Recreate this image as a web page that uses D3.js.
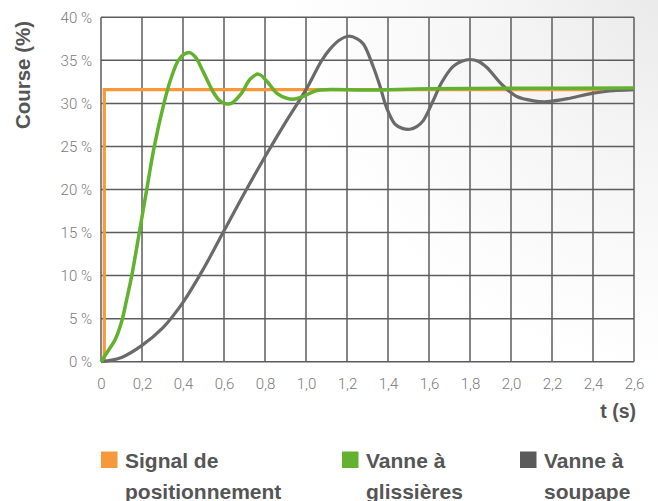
<!DOCTYPE html>
<html>
<head>
<meta charset="utf-8">
<script src="https://cdn.jsdelivr.net/npm/d3@7"></script>
<style>
  html, body { margin: 0; padding: 0; background: #fff; }
  svg { display: block; }
</style>
</head>
<body>
<svg id="chart" width="658" height="501"></svg>
<script>
// ---- Data ----
const xTickValues = [0, 0.2, 0.4, 0.6, 0.8, 1.0, 1.2, 1.4, 1.6, 1.8, 2.0, 2.2, 2.4, 2.6];
const xTickLabels = ["0", "0,2", "0,4", "0,6", "0,8", "1,0", "1,2", "1,4", "1,6", "1,8", "2,0", "2,2", "2,4", "2,6"];
const yTickValues = [0, 5, 10, 15, 20, 25, 30, 35, 40];
const yTickLabels = ["0 %", "5 %", "10 %", "15 %", "20 %", "25 %", "30 %", "35 %", "40 %"];

const signalT = [0.016, 0.016, 2.6];
const signalV = [0, 31.6, 31.6];

const glissT = [0, 0.036, 0.07, 0.1, 0.125, 0.15, 0.187, 0.223, 0.26, 0.307, 0.34, 0.377, 0.405, 0.432, 0.46, 0.5, 0.548, 0.58, 0.61, 0.635, 0.686, 0.727, 0.768, 0.808, 0.857, 0.906, 0.946, 0.995, 1.052, 1.117, 1.3, 1.6, 2.0, 2.6];
const glissV = [0, 1.3, 2.6, 4.6, 7.2, 10, 15, 20, 25, 30, 32.8, 35, 35.7, 35.9, 35.4, 33.6, 31.3, 30.3, 29.95, 30.0, 31.2, 32.8, 33.4, 32.6, 31.2, 30.6, 30.5, 30.9, 31.5, 31.6, 31.55, 31.7, 31.75, 31.8];

const soupT = [0, 0.1, 0.2, 0.3, 0.4, 0.5, 0.6, 0.7, 0.8, 0.9, 1.0, 1.077, 1.117, 1.16, 1.207, 1.25, 1.28, 1.329, 1.361, 1.393, 1.434, 1.47, 1.507, 1.54, 1.572, 1.62, 1.661, 1.718, 1.76, 1.8, 1.84, 1.881, 1.955, 2.028, 2.11, 2.175, 2.288, 2.402, 2.516, 2.6];
const soupV = [0, 0.5, 1.9, 3.9, 6.9, 10.8, 15.2, 19.6, 23.8, 27.8, 31.6, 35.0, 36.3, 37.3, 37.8, 37.5, 36.9, 34.2, 32.0, 29.5, 27.6, 27.1, 27.0, 27.3, 28.0, 30.3, 32.4, 34.3, 34.9, 35.1, 34.9, 34.2, 32.2, 30.8, 30.3, 30.2, 30.6, 31.2, 31.5, 31.6];

const legendLabels = [["Signal de", "positionnement"], ["Vanne à", "glissières"], ["Vanne à", "soupape"]];
const seriesColors = ["#f6993a", "#62b22f", "#5a5a5a"];

// ---- Drawing ----
const svg = d3.select("#chart");
const defs = svg.append("defs");
const grad = defs.append("radialGradient").attr("id", "bg")
  .attr("gradientUnits", "userSpaceOnUse")
  .attr("cx", 700).attr("cy", -40).attr("r", 420);
grad.append("stop").attr("offset", 0).attr("stop-color", "#e6e6e6");
grad.append("stop").attr("offset", 0.45).attr("stop-color", "#f4f4f4");
grad.append("stop").attr("offset", 1).attr("stop-color", "#ffffff");
svg.append("rect").attr("width", 658).attr("height", 501).attr("fill", "url(#bg)");

const x = d3.scaleLinear().domain([0, 2.6]).range([101, 634]);
const y = d3.scaleLinear().domain([0, 40]).range([361.7, 17.3]);

const gridColor = "#5c5c5c";
const grid = svg.append("g");
grid.selectAll("line.v").data(xTickValues).join("line")
  .attr("x1", d => x(d)).attr("x2", d => x(d))
  .attr("y1", y(0)).attr("y2", y(40))
  .attr("stroke", gridColor).attr("stroke-width", 1.5);
grid.selectAll("line.h").data(yTickValues).join("line")
  .attr("x1", x(0)).attr("x2", x(2.6))
  .attr("y1", d => y(d)).attr("y2", d => y(d))
  .attr("stroke", gridColor).attr("stroke-width", 1.5);

// axes labels via d3 axes (no domain / tick lines)
const xAxis = d3.axisBottom(x).tickValues(xTickValues)
  .tickFormat((d, i) => xTickLabels[i]).tickSize(0).tickPadding(0);
const gx = svg.append("g").attr("transform", `translate(0,${y(0)})`).call(xAxis);
gx.select(".domain").remove();
gx.selectAll("text").attr("dy", null).attr("y", 27)
  .attr("font-family", "Roboto, 'Liberation Sans', sans-serif").attr("font-weight", 300)
  .attr("font-size", 15).attr("fill", "#7a7a7a");

const yAxis = d3.axisLeft(y).tickValues(yTickValues)
  .tickFormat((d, i) => yTickLabels[i]).tickSize(0).tickPadding(0);
const gy = svg.append("g").attr("transform", `translate(92,0)`).call(yAxis);
gy.select(".domain").remove();
gy.selectAll("text").attr("x", 0).attr("dy", "0.35em")
  .attr("font-family", "Roboto, 'Liberation Sans', sans-serif").attr("font-weight", 300)
  .attr("font-size", 15).attr("fill", "#7a7a7a");

// series
const lineLin = d3.line().x(d => x(d[0])).y(d => y(d[1]));
const lineSmooth = d3.line().x(d => x(d[0])).y(d => y(d[1])).curve(d3.curveCatmullRom.alpha(0.5));

svg.append("path").datum(signalT.map((t, i) => [t, signalV[i]]))
  .attr("d", lineLin).attr("fill", "none")
  .attr("stroke", seriesColors[0]).attr("stroke-width", 3.2).attr("stroke-linejoin", "miter");
svg.append("path").datum(soupT.map((t, i) => [t, soupV[i]]))
  .attr("d", lineSmooth).attr("fill", "none")
  .attr("stroke", "#6a6a6a").attr("stroke-width", 3.2);
svg.append("path").datum(glissT.map((t, i) => [t, glissV[i]]))
  .attr("d", lineSmooth).attr("fill", "none")
  .attr("stroke", seriesColors[1]).attr("stroke-width", 3.5);

// axis titles
const boldFont = "'Liberation Sans', Arial, Helvetica, sans-serif";
svg.append("text").attr("transform", "translate(30,75) rotate(-90)")
  .attr("text-anchor", "middle").attr("font-family", boldFont).attr("font-weight", "bold")
  .attr("font-size", 20.5).attr("fill", "#555").text("Course (%)");
svg.append("text").attr("x", 636).attr("y", 418)
  .attr("text-anchor", "end").attr("font-family", boldFont).attr("font-weight", "bold")
  .attr("font-size", 19.5).attr("fill", "#555").text("t (s)");

// legend
const legendX = [101, 342, 520];
const leg = svg.append("g");
legendLabels.forEach((lines, i) => {
  leg.append("rect").attr("x", legendX[i]).attr("y", 451.5).attr("width", 16.5).attr("height", 16.5)
    .attr("fill", seriesColors[i]);
  lines.forEach((ln, j) => {
    leg.append("text").attr("x", legendX[i] + 24).attr("y", 467.5 + j * 31)
      .attr("font-family", boldFont).attr("font-weight", "bold")
      .attr("font-size", 21).attr("fill", "#555").text(ln);
  });
});
</script>
</body>
</html>
